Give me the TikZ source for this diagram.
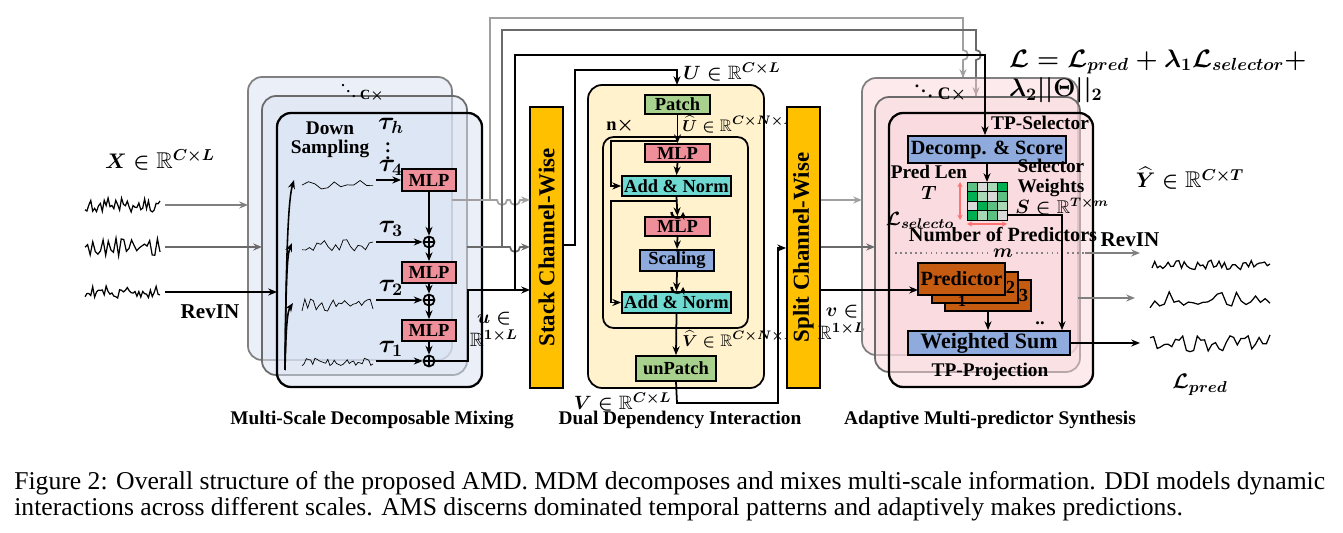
\documentclass[tikz,border=0pt]{standalone}
\usepackage{amsmath,amssymb,bm}
\usepackage{fontspec}
\setmainfont{Liberation Serif}
\usetikzlibrary{arrows.meta,calc,fit}
\definecolor{mdmbg}{HTML}{DAE3F3}
\definecolor{ddibg}{HTML}{FFF2CC}
\definecolor{amsbg}{HTML}{F9D9DD}
\definecolor{mlpc}{HTML}{EF8F99}
\definecolor{addc}{HTML}{6FDAD2}
\definecolor{patc}{HTML}{A9D18E}
\definecolor{bluc}{HTML}{8FAADC}
\definecolor{orgc}{HTML}{FFC000}
\definecolor{predc}{HTML}{C55A11}
\definecolor{gA}{HTML}{00B050}
\definecolor{gB}{HTML}{5CC083}
\definecolor{gC}{HTML}{A9D8B6}
\definecolor{gD}{HTML}{D9D9D9}
\definecolor{lg}{HTML}{A0A0A0}
\definecolor{dg}{HTML}{6A6A6A}
\begin{document}
\boldmath
\begin{tikzpicture}[x=0.02cm,y=-0.02cm,>={Stealth[length=5pt,width=4pt]},
  font=\bfseries\fontsize{10.5}{12}\selectfont,
  box/.style={draw,line width=1pt,inner sep=0pt},
  frame/.style={rounded corners=8pt,line width=1pt,fill opacity=0.55},
  plus/.style={circle,draw,line width=1pt,minimum size=0.22cm,inner sep=0pt,
    path picture={\draw[line width=0.8pt] (path picture bounding box.north)--(path picture bounding box.south) (path picture bounding box.west)--(path picture bounding box.east);}},
  conn/.style={->,line width=1pt},
  wave/.style={line width=0.4pt},
  tau/.style={font=\fontsize{14}{14}\selectfont}]
\useasboundingbox (0,0) rectangle (1343,533);
\pgfmathsetseed{7}
% ================= MDM =================
\draw[frame,draw=gray,fill=mdmbg] (248,77) rectangle (452,360);
\draw[frame,draw=dg,fill=mdmbg] (262,96) rectangle (467,375);
\draw[frame,draw=black,fill=mdmbg,line width=1.3pt] (277,113) rectangle (482,387);
\node[font=\bfseries\fontsize{8}{9}\selectfont] (mc) at (362,87) {$\ddots$ C$\times$};
\node[align=center,font=\bfseries\fontsize{11}{11}\selectfont] (ds) at (330,140) {Down\\Sampling};
\node[tau] (th) at (391,126) {$\tau_h$};
\node[inner sep=0] (tdots) at (388,146) {$\vdots$};
\node[box,fill=mlpc,fit={(402,169)(456,191)}] (m1) {};
\node at (m1) {MLP};
\node[plus] (p3) at (429,242) {};
\node[box,fill=mlpc,fit={(402,262)(456,283)}] (m2) {};
\node at (m2) {MLP};
\node[plus] (p2) at (429,300) {};
\node[box,fill=mlpc,fit={(402,320)(456,341)}] (m3) {};
\node at (m3) {MLP};
\node[plus] (p1) at (429,361) {};
\node[tau,inner sep=1pt] (t4) at (391,168) {$\tau_4$};
\node[tau] (t3) at (391,229) {$\tau_3$};
\node[tau] (t2) at (391,288) {$\tau_2$};
\node[tau] (t1) at (391,349) {$\tau_1$};
\coordinate (w4) at (376,180); \coordinate (w3) at (376,242);
\coordinate (w2) at (376,300); \coordinate (w1) at (376,361);
\draw[wave] plot[domain=302:373,samples=12] (\x,{184+5*rand});
\draw[wave] plot[domain=302:373,samples=20] (\x,{245+6*rand});
\draw[wave] plot[domain=302:373,samples=26] (\x,{305+6*rand});
\draw[wave] plot[domain=302:373,samples=34] (\x,{362+4*rand});
\draw[conn] (w4) -- (m1.west);
\draw[conn] (w3) -- (p3.west);
\draw[conn] (w2) -- (p2.west);
\draw[conn] (w1) -- (p1.west);
\draw[conn] (m1.south) -- (p3.north);
\draw[conn] (p3.south) -- (m2.north);
\draw[conn] (m2.south) -- (p2.north);
\draw[conn] (p2.south) -- (m3.north);
\draw[conn] (m3.south) -- (p1.north);
\coordinate (fan) at (285,370);
\draw[->,line width=0.9pt] (fan) .. controls (286,260) and (288,200) .. (294,180);
\draw[->,line width=0.9pt] (fan) .. controls (286,280) and (287,255) .. (292,243);
\draw[->,line width=0.9pt] (fan) .. controls (286,330) and (287,312) .. (293,303);
% inputs
\node[font=\fontsize{13}{13}\selectfont] (X) at (160,160) {$\bm{X}\in\mathbb{R}^{C\times L}$};
\draw[wave,line width=0.7pt] plot[domain=85:160,samples=40] (\x,{205+7*rand});
\draw[wave,line width=0.7pt] plot[domain=85:160,samples=30] (\x,{247+9*rand});
\draw[wave,line width=0.7pt] plot[domain=85:160,samples=40] (\x,{292+6*rand});
\coordinate (i1) at (165,205); \coordinate (i2) at (165,247); \coordinate (i3) at (165,292);
\draw[->,line width=1pt,gray] (i1) -- (248,205);
\draw[->,line width=1pt,dg] (i2) -- (262,247);
\draw[->,line width=1.3pt] (i3) -- (277,292);
\node[font=\bfseries\fontsize{12}{12}\selectfont] (rv1) at (210,312) {RevIN};
% Stack
\node[box,fill=orgc,fit={(530,107)(563,388)}] (stk) {};
\node[rotate=90,font=\bfseries\fontsize{13}{13}\selectfont] at (stk) {Stack Channel-Wise};
\draw[conn] (p1.east) -| (468,290) -- (530,290);
\node[align=center,font=\bfseries\fontsize{11}{13}\selectfont] (ulab) at (494,329) {$\bm{u}\in$\\$\mathbb{R}^{1\times L}$};
% long feeder lines
\draw[line width=1pt,lg] (452,200) -- (497,200) arc(180:0:5) -- (510,200) arc(180:0:5) -- (525,200);
\draw[->,line width=1pt,lg] (525,200) -- (530,200);
\draw[line width=1pt,dg] (467,247) -- (510,247) arc(180:0:5) -- (525,247);
\draw[->,line width=1pt,dg] (525,247) -- (530,247);
\draw[line width=1pt,lg] (490,200) -- (490,18) -- (963,18) -- (963,50) arc(-90:90:5) -- (963,78);
\draw[->,line width=1pt,lg] (963,70) -- (963,78);
\draw[line width=1pt,dg] (502,247) -- (502,30) -- (976,30) -- (976,50) arc(-90:90:5) -- (976,96);
\draw[->,line width=1pt,dg] (976,88) -- (976,96);
% ================= DDI =================
\draw[rounded corners=8pt,line width=1pt,fill=ddibg] (588,85) rectangle (764,388);
\node[box,fill=patc,fit={(645,95)(710,114)}] (patch) {};
\node at (patch) {Patch};
\draw[rounded corners=6pt,line width=1pt] (603,137) rectangle (748,328);
\node (nx) at (620,126) {n$\times$};
\node[anchor=west,inner sep=0,font=\bfseries\fontsize{9.5}{10}\selectfont] (uh) at (682,124) {$\widehat{\bm{U}}\in\mathbb{R}^{C\times N\times P}$};
\node[box,fill=mlpc,fit={(645,144)(710,162)}] (ma) {};
\node at (ma) {MLP};
\node[box,fill=addc,fit={(622,176)(731,196)}] (an1) {};
\node at (an1) {Add \& Norm};
\node[box,fill=mlpc,fit={(645,217)(710,236)}] (mb) {};
\node at (mb) {MLP};
\node[box,fill=bluc,fit={(640,250)(714,271)}] (sc) {};
\node at (sc) {Scaling};
\node[box,fill=addc,fit={(622,292)(731,313)}] (an2) {};
\node at (an2) {Add \& Norm};
\node[box,fill=patc,fit={(636,356)(716,381)}] (unp) {};
\node at (unp) {unPatch};
\node[anchor=west,inner sep=0,font=\bfseries\fontsize{9.5}{10}\selectfont] (vh) at (682,339) {$\widehat{\bm{V}}\in\mathbb{R}^{C\times N\times P}$};
\node[anchor=west,inner sep=0,font=\bfseries\fontsize{11}{11}\selectfont] (U) at (683,72) {$\bm{U}\in\mathbb{R}^{C\times L}$};
\node[anchor=east,inner sep=0,font=\bfseries\fontsize{11}{11}\selectfont] (V) at (672,402) {$\bm{V}\in\mathbb{R}^{C\times L}$};
\draw[conn] (stk.east |- 0,245) -- (575,245) -- (575,70) -- (677,70) -- (677,85);
\draw[conn] (patch.south) -- (ma.north);
\draw[conn] (677,141) -- (611,141) |- (an1.west);
\draw[conn] (ma.south) -- (an1.north);
\draw[conn] (an1.south) -- (mb.north);
\draw[conn] (677,201) -- (611,201) |- (an2.west);
\draw[conn] (mb.south) -- (sc.north);
\draw[conn] (sc.south) -- (an2.north);
\draw[conn] (an2.south) -- (unp.north);
\foreach \yy in {209,284}{
  \draw[line width=0.8pt,->,>={Stealth[length=3pt,width=3pt]}] (671,\yy+3) arc(180:0:6);
  \draw[line width=0.8pt,->,>={Stealth[length=3pt,width=3pt]}] (672,\yy+3) arc(180:20:6);
}
% Split
\node[box,fill=orgc,fit={(787,107)(820,388)}] (spl) {};
\node[rotate=90,font=\bfseries\fontsize{13}{13}\selectfont] at (spl) {Split Channel-Wise};
\draw[conn] (unp.south) -- (677,403) -| (778,248) -- (spl.west |- 0,248);
\node[align=center,font=\bfseries\fontsize{11}{13}\selectfont] (vlab) at (842,322) {$\bm{v}\in$\\$\mathbb{R}^{1\times L}$};
% ================= AMS =================
\draw[frame,draw=gray,fill=amsbg] (862,78) rectangle (1078,355);
\draw[frame,draw=dg,fill=amsbg] (875,97) rectangle (1080,372);
\draw[frame,draw=black,fill=amsbg,line width=1.3pt] (889,113) rectangle (1093,387);
\draw[->,line width=1pt,lg] (spl.east |- 0,200) -- (862,200);
\draw[->,line width=1pt,dg] (spl.east |- 0,247) -- (875,247);
\node[font=\bfseries\fontsize{10}{10}\selectfont] (mc2) at (940,87) {$\ddots$ C$\times$};
\node[font=\bfseries\fontsize{11}{11}\selectfont] (tps) at (1040,123) {TP-Selector};
\node[box,fill=bluc,fit={(908,136)(1066,163)}] (dec) {};
\node[font=\bfseries\fontsize{11.5}{12}\selectfont] at (dec) {Decomp. \& Score};
\draw[conn] (515,290) -- (515,55) -- (985,55) -- (dec.north -| 985,0);
\node[font=\bfseries\fontsize{11}{11}\selectfont] (pl) at (929,172) {Pred Len};
\node (Tl) at (929,193) {$\bm{T}$};
\node[align=center,font=\bfseries\fontsize{11}{11.5}\selectfont] (sw) at (1051,178) {Selector\\Weights};
\node[anchor=west,inner sep=0,font=\fontsize{10.5}{11}\selectfont] (Sl) at (1015,207) {$\bm{S}\in\mathbb{R}^{T\times m}$};
\node[font=\fontsize{11}{11}\selectfont] (Ls) at (920,220) {$\mathcal{L}_{selecto}$};
% grid
\foreach \r/\row in {0/{gB,gD,gC,gA},1/{gA,gC,gD,gB},2/{gD,gA,gB,gC},3/{gA,gC,gB,gD}}{
  \foreach \c/\col [count=\k] in \row {
    \fill[\col,draw=black,line width=0.4pt] ({967+(\k-1)*10},{182+\r*9.5}) rectangle ++(10,9.5);
  }}
\coordinate (gridN) at (987,182);
\coordinate (gridE) at (1007,215);
\draw[conn] (dec.south -| 987,0) -- (gridN);
\draw[<->,line width=0.9pt,red!55,>={Stealth[length=3pt,width=3pt]}] (960,182) -- (960,220);
\draw[<->,line width=0.9pt,red!55,>={Stealth[length=3pt,width=3pt]}] (967,224) -- (1007,224);
\node[font=\bfseries\fontsize{11.5}{12}\selectfont] (np) at (1003,235) {Number of Predictors};
\node (ml) at (1003,253) {$\bm{m}$};
\draw[dotted,line width=0.9pt,gray] (895,253) -- (990,253) (1016,253) -- (1085,253);
\draw[->,line width=1pt,gray] (1085,253) -- (1140,253);
\node[font=\bfseries\fontsize{12}{12}\selectfont] (rv2) at (1130,240) {RevIN};
\node[box,fill=predc,fit={(945,280)(1031,311)}] (pr3) {};
\node[anchor=east,inner sep=2pt] at (pr3.east) {3};
\node[box,fill=predc,fit={(932,272)(1018,303)}] (pr2) {};
\node[anchor=east,inner sep=2pt] at (pr2.east) {2};
\node[box,fill=predc,fit={(918,263)(1005,295)}] (pr1) {};
\node[font=\bfseries\fontsize{11.5}{12}\selectfont] at (pr1) {Predictor};
\node[font=\bfseries\fontsize{9}{9}\selectfont] at (962,301) {1};
\draw[conn] (spl.east |- 0,290) -- (918,290);
\node[box,fill=bluc,fit={(908,331)(1070,355)}] (ws) {};
\node[font=\bfseries\fontsize{12.5}{13}\selectfont] at (ws) {Weighted Sum};
\node (dd) at (1040,323) {..};
\draw[conn] (988,311) -- (ws.north -| 988,0);
\draw[conn] (gridE) -- (1062,215) -- (ws.north -| 1062,0);
\node[font=\bfseries\fontsize{11}{11}\selectfont] (tpp) at (990,372) {TP-Projection};
\draw[->,line width=1pt,gray] (1078,298) -- (1135,298);
\draw[conn] (ws.east) -- (1140,343);
% loss
\node[anchor=west,font=\bfseries\fontsize{14}{14}\selectfont] (loss) at (1003,62) {$\mathcal{L}=\mathcal{L}_{pred}+\lambda_1\mathcal{L}_{selector}+$};
\node[anchor=west,font=\bfseries\fontsize{14}{14}\selectfont] (loss2) at (1003,90) {$\lambda_2||\Theta||_2$};
% outputs
\node[font=\fontsize{13}{13}\selectfont] (Y) at (1190,178) {$\widehat{\bm{Y}}\in\mathbb{R}^{C\times T}$};
\draw[wave,line width=0.7pt] plot[domain=1152:1270,samples=45] (\x,{265+5*rand});
\draw[wave,line width=0.7pt] plot[domain=1150:1270,samples=26] (\x,{300+9*rand});
\draw[wave,line width=0.7pt] plot[domain=1150:1270,samples=34] (\x,{343+9*rand});
\node[font=\fontsize{13}{13}\selectfont] (Lp) at (1200,385) {$\mathcal{L}_{pred}$};
% section titles
\node[font=\bfseries\fontsize{11}{12}\selectfont] (t1) at (372,420) {Multi-Scale Decomposable Mixing};
\node[font=\bfseries\fontsize{11}{12}\selectfont] (t2) at (680,420) {Dual Dependency Interaction};
\node[font=\bfseries\fontsize{11}{12}\selectfont] (t3) at (990,420) {Adaptive Multi-predictor Synthesis};
% caption
\node[anchor=north west,align=left,font=\fontsize{14.6}{14.8}\selectfont\mdseries,inner sep=0] (cap) at (14,471) {Figure 2: Overall structure of the proposed AMD. MDM decomposes and mixes multi-scale information. DDI models dynamic\\interactions across different scales. AMS discerns dominated temporal patterns and adaptively makes predictions.};
\end{tikzpicture}
\end{document}
